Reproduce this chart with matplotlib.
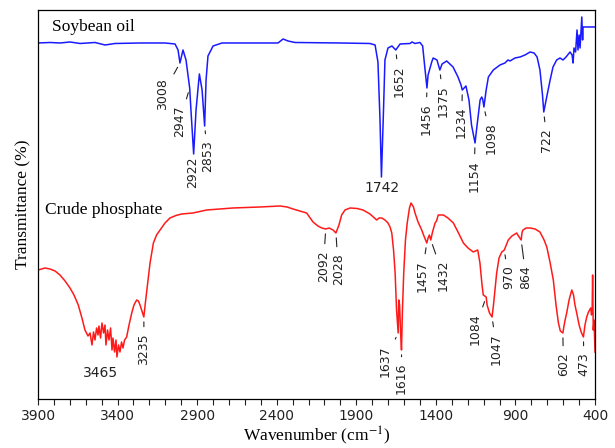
import numpy as np
import matplotlib.pyplot as plt

plt.rcParams['mathtext.fontset'] = 'stix'

# Soybean oil spectrum (wavenumber, transmittance in arbitrary offset units)
soy_wn = [3900, 3825, 3762, 3699, 3636, 3542, 3479, 3416, 3259, 3102, 3039, 3020,
          3008, 2989, 2970, 2947, 2939, 2922, 2907, 2886, 2869, 2853, 2844, 2832,
          2800, 2744, 2568, 2392, 2360, 2329, 2285, 2002, 1814, 1782, 1764, 1751,
          1742, 1729, 1720, 1701, 1676, 1652, 1625, 1562, 1550, 1531, 1500, 1483,
          1471, 1456, 1449, 1426, 1417, 1405, 1393, 1375, 1361, 1332, 1292, 1261,
          1242, 1234, 1211, 1192, 1176, 1154, 1141, 1122, 1112, 1106, 1098, 1084,
          1070, 1039, 997, 966, 947, 934, 903, 871, 840, 808, 783, 764, 746, 730,
          722, 701, 682, 664, 641, 620, 601, 582, 557, 544, 538, 532, 522, 513,
          507, 500, 494, 483, 478, 475, 463, 400]
soy_t = [356, 356.5, 356, 357, 355.5, 356.5, 354, 355.5, 356, 356, 355, 349,
         336, 349, 339, 311, 289, 245, 289, 325, 309, 273, 319, 343,
         353, 356, 356, 356, 360, 358, 356.5, 356, 355.5, 354, 337, 279,
         222, 289, 339, 351, 353, 349, 355, 355.5, 357, 355.5, 356.5, 353,
         334, 311, 324, 337, 341, 340, 339, 329, 335, 338, 332, 322,
         314, 309, 313, 299, 274, 256, 274, 299, 302, 300, 292, 309,
         322, 329, 334, 336, 339, 338, 341, 342, 344, 347, 346, 342, 329, 304,
         287, 304, 319, 332, 339, 341, 339, 342, 347, 344, 336, 351, 347, 369,
         349, 364, 351, 382, 359, 372, 372, 372]

# Crude phosphate spectrum
crude_wn = [3898, 3856, 3825, 3793, 3762, 3730, 3699, 3674, 3647, 3624, 3605, 3586,
            3573, 3561, 3551, 3542, 3532, 3523, 3517, 3507, 3498, 3488, 3479, 3473,
            3463, 3454, 3444, 3435, 3429, 3419, 3410, 3404, 3394, 3385, 3375, 3366,
            3356, 3343, 3328, 3311, 3297, 3280, 3269, 3259, 3235, 3227, 3216, 3205,
            3196, 3175, 3155, 3133, 3102, 3071, 3033, 2997, 2926, 2840, 2756, 2675,
            2505, 2379, 2335, 2298, 2254, 2212, 2172, 2141, 2117, 2092, 2071, 2046,
            2028, 2009, 1992, 1971, 1939, 1895, 1858, 1814, 1772, 1757, 1740, 1720,
            1701, 1688, 1677, 1666, 1656, 1647, 1637, 1633, 1628, 1621, 1616, 1610,
            1602, 1591, 1580, 1566, 1556, 1541, 1531, 1512, 1489, 1475, 1457, 1449,
            1441, 1432, 1421, 1405, 1396, 1385, 1353, 1324, 1290, 1261, 1227, 1198,
            1165, 1137, 1123, 1110, 1102, 1084, 1078, 1063, 1047, 1038, 1018, 1003,
            986, 970, 945, 922, 892, 881, 864, 858, 852, 833, 808, 777, 746, 720,
            703, 683, 662, 645, 630, 618, 602, 596, 588, 578, 563, 546, 535, 526,
            515, 500, 487, 473, 463, 452, 441, 427, 422, 418, 415, 413, 411, 406, 400]
crude_t = [129, 131, 130, 128, 124, 118, 111, 104, 94, 81, 69, 63,
           66, 54, 67, 59, 71, 64, 73, 61, 76, 66, 74, 54,
           69, 59, 71, 49, 61, 47, 59, 42, 54, 47, 57, 51,
           59, 62, 74, 86, 94, 99, 98, 94, 82, 94, 109, 124,
           136, 156, 164, 169, 176, 181, 183.5, 185, 186, 189, 190, 191,
           192, 193, 192, 190, 188, 186, 177, 173, 171, 170, 171, 169,
           166, 174, 184, 189, 191, 190.5, 189, 185, 179, 181, 181, 179,
           176, 172, 166, 149, 126, 89, 66, 99, 94, 64, 49, 89,
           126, 159, 176, 191, 196, 192, 186, 177, 169, 163, 156, 161,
           164, 159, 167, 176, 178, 184, 184, 181, 176, 167, 156, 151,
           147, 149, 136, 114, 104, 102, 94, 86, 82, 94, 126, 141,
           147, 149, 159, 163, 166, 163, 159, 167, 169, 171, 171, 170, 167, 159,
           152, 137, 119, 94, 76, 68, 66, 72, 79, 86, 99, 109, 104, 94,
           86, 74, 67, 62, 74, 82, 87, 91, 84, 89, 124, 99, 69, 79, 47]

# Peak labels: (peak, label x, label y)
soy_labels = [(3008, 3115, 321), (2947, 3008, 294), (2922, 2928, 242),
              (2853, 2832, 259), (1652, 1630, 334), (1456, 1462, 296),
              (1375, 1353, 314), (1234, 1238, 292), (1154, 1160, 239),
              (1098, 1055, 277), (722, 703, 271)]
crude_labels = [(3235, 3234, 66), (2092, 2107, 149), (2028, 2013, 146),
                (1637, 1720, 54), (1616, 1615, 36), (1457, 1489, 139),
                (1432, 1353, 139), (1084, 1154, 86), (1047, 1018, 66),
                (970, 945, 134), (864, 834, 134), (602, 599, 47), (473, 469, 47)]
no_dash = [2922]

fig = plt.figure(figsize=(6.15, 4.48), dpi=100)
ax = fig.add_axes([0.0618, 0.1094, 0.9057, 0.8683])

ax.plot(soy_wn, soy_t, color='#1a1aff', lw=1.1)
ax.plot(crude_wn, crude_t, color='#ff1a1a', lw=1.1)


def label_peaks(wn, t, labels):
    for p, lx, ly in labels:
        py = np.interp(p, wn[::-1], t[::-1])
        props = None if p in no_dash else dict(arrowstyle='-', lw=0.8, color='#222222',
                                                shrinkA=2.5, shrinkB=3.5)
        ax.annotate(str(p), xy=(p, py), xytext=(lx, ly), textcoords='data',
                    rotation=90, ha='center', va='top', fontsize=9,
                    color='#222222', arrowprops=props)


label_peaks(np.array(soy_wn), np.array(soy_t), soy_labels)
label_peaks(np.array(crude_wn), np.array(crude_t), crude_labels)
ax.text(1740, 211, '1742', ha='center', va='center', fontsize=10, color='#222222')
ax.text(3510, 26, '3465', ha='center', va='center', fontsize=10, color='#222222')

ax.text(0.025, 0.955, 'Soybean oil', transform=ax.transAxes, family='Liberation Serif',
        fontsize=12.5, va='center')
ax.text(0.013, 0.485, 'Crude phosphate', transform=ax.transAxes, family='Liberation Serif',
        fontsize=12.5, va='center')

ax.set_xlim(3900, 400)
ax.set_ylim(0, 389)
ax.set_xticks(np.arange(3900, 399, -500))
ax.set_xticks(np.arange(3900, 399, -100), minor=True)
ax.tick_params(axis='x', which='both', direction='out', length=4, width=0.8,
               labelsize=10, colors='#222222')
ax.tick_params(axis='y', left=False, labelleft=False)
ax.set_xlabel('Wavenumber (cm$^{-1}$)', family='Liberation Serif', fontsize=12.5, labelpad=1)
ax.set_ylabel('Transmittance (%)', family='Liberation Serif', fontsize=12.5, labelpad=5)
for s in ax.spines.values():
    s.set_linewidth(0.9)

fig.savefig('out.png', dpi=100)
